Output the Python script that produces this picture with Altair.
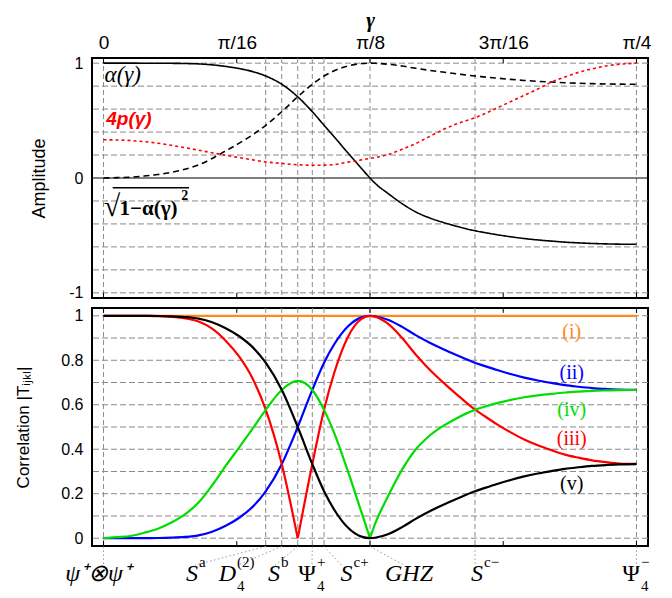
import json
import altair as alt
import pandas as pd

PI = 3.141592653589793

# ---------------- data ----------------
gamma = [0.0, 0.02, 0.04, 0.06, 0.08, 0.10, 0.12, 0.14, 0.16, 0.18, 0.20, 0.22,
         0.239, 0.2626, 0.2862, 0.3077, 0.325, 0.34, 0.36, 0.38, 0.3927,
         0.40, 0.42, 0.44, 0.46, 0.48, 0.50, 0.52, 0.5474, 0.56, 0.58, 0.60,
         0.62, 0.64, 0.66, 0.68, 0.70, 0.72, 0.74, 0.76, 0.7854]

alpha = [1.0, 1.0, 0.99998, 0.99985, 0.99955, 0.99875, 0.9971, 0.99348, 0.98539, 0.9716,
         0.95289, 0.92628, 0.8883, 0.8167, 0.7071, 0.5771, 0.4593, 0.3578, 0.2191,
         0.0837, 0.0, -0.0447, -0.1378, -0.2236, -0.295, -0.3464, -0.386, -0.4195,
         -0.4593, -0.4733, -0.494, -0.5119, -0.5273, -0.5394, -0.5495, -0.5586,
         -0.5648, -0.5701, -0.5736, -0.5762, -0.5774]

alpha_comp = [0.0, 0.0032, 0.0071, 0.0173, 0.03, 0.05, 0.0762, 0.114, 0.1703, 0.2366,
              0.3033, 0.3768, 0.4593, 0.5771, 0.7071, 0.8167, 0.8883, 0.9338, 0.9757,
              0.9965, 1.0, 0.999, 0.9905, 0.9747, 0.9555, 0.9381, 0.9225, 0.9077,
              0.8883, 0.8809, 0.8695, 0.8591, 0.8497, 0.842, 0.8355, 0.8295, 0.8252,
              0.8216, 0.8191, 0.8173, 0.8165]

four_p = [0.333, 0.331, 0.326, 0.317, 0.303, 0.285, 0.264, 0.242, 0.22, 0.198,
          0.178, 0.158, 0.14, 0.127, 0.115, 0.111, 0.112, 0.117, 0.138, 0.158,
          0.17, 0.178, 0.205, 0.25, 0.3, 0.36, 0.42, 0.47, 0.525, 0.555, 0.61,
          0.665, 0.72, 0.775, 0.835, 0.88, 0.92, 0.95, 0.975, 0.99, 1.0]

corr_i_gamma = [0.0, 0.7854]
corr_i = [1.0, 1.0]

corr_ii = [0.0, 0.00001, 0.00005, 0.0003, 0.0009, 0.0025, 0.0058, 0.013, 0.029, 0.056,
           0.092, 0.142, 0.211, 0.333, 0.5, 0.667, 0.789, 0.872, 0.952, 0.993, 1.0,
           0.998, 0.981, 0.95, 0.913, 0.88, 0.851, 0.824, 0.789, 0.776, 0.756, 0.738,
           0.722, 0.709, 0.698, 0.688, 0.681, 0.675, 0.671, 0.668, 0.667]

corr_iii = [1.0, 1.0, 0.9999, 0.9994, 0.9982, 0.995, 0.9884, 0.974, 0.942, 0.888, 0.816,
            0.716, 0.578, 0.334, 0.0, 0.334, 0.578, 0.744, 0.904, 0.986, 1.0, 0.996,
            0.962, 0.9, 0.826, 0.76, 0.702, 0.648, 0.578, 0.552, 0.512, 0.476, 0.444,
            0.418, 0.396, 0.376, 0.362, 0.35, 0.342, 0.336, 0.334]

corr_iv = [0.0, 0.0045, 0.01, 0.0245, 0.0424, 0.0706, 0.1074, 0.1602, 0.2373, 0.3252,
           0.4087, 0.4936, 0.577, 0.6665, 0.7071, 0.6665, 0.577, 0.4725, 0.3023, 0.118,
           0.0, 0.0632, 0.1931, 0.3082, 0.3986, 0.4596, 0.5036, 0.5386, 0.577, 0.5896,
           0.6074, 0.6219, 0.6336, 0.6424, 0.6493, 0.6552, 0.6592, 0.6624, 0.6645,
           0.666, 0.6665]

corr_v = [1.0, 1.0, 0.99995, 0.9997, 0.9991, 0.9975, 0.9942, 0.987, 0.971, 0.944, 0.908,
          0.858, 0.789, 0.667, 0.5, 0.333, 0.211, 0.128, 0.048, 0.007, 0.0, 0.002,
          0.019, 0.05, 0.087, 0.12, 0.149, 0.176, 0.211, 0.224, 0.244, 0.262, 0.278,
          0.291, 0.302, 0.312, 0.319, 0.325, 0.329, 0.332, 0.333]

# cusp positions (sharp minima) of (iii) and (iv)
cusp_iii = 0.2862
cusp_iv = 0.3927

special_gamma = [0.0, 0.239, 0.2626, 0.2862, 0.3077, 0.325, 0.3927, 0.5474, 0.7854]
leader_end_gamma = [0.0, 0.1348, 0.198, 0.2527, 0.3072, 0.3508, 0.4428, 0.5474, 0.7854]

state_main = ["ψ⁺⊗ψ⁺", "S", "D", "S", "Ψ", "S", "GHZ", "S", "Ψ"]
state_sup = ["", "a", "(2)", "b", "+", "c+", "", "c−", "−"]
state_sub = ["", "", "4", "", "4", "", "", "", "4"]
state_italic = [True, True, True, True, False, True, True, True, False]
state_anchor_gamma = [0.0405, 0.1393, 0.1953, 0.2601, 0.3131, 0.3669, 0.4856, 0.5592, 0.7906]

top_tick_values = [0.0, PI / 16, PI / 8, 3 * PI / 16, PI / 4]
top_tick_labels = ["0", "π/16", "π/8", "3π/16", "π/4"]

amp_grid = [-1.0, -0.8, -0.6, -0.4, -0.2, 0.2, 0.4, 0.6, 0.8, 1.0]
amp_axis_values = [-1, 0, 1]
corr_grid = [0.0, 0.1, 0.2, 0.3, 0.4, 0.5, 0.6, 0.7, 0.8, 0.9, 1.0]
corr_axis_values = [0, 0.2, 0.4, 0.6, 0.8, 1]

curve_names = ["(i)", "(ii)", "(iii)", "(iv)", "(v)"]
curve_colors = ["#ff8c1a", "#0000ff", "#ff0000", "#00dd00", "#000000"]
curve_label_gamma = [0.69, 0.69, 0.69, 0.69, 0.69]
curve_label_value = [0.928, 0.744, 0.444, 0.578, 0.242]

# ---------------- frames ----------------
X_DOM = [-0.017, 0.8024]
TOP_DOM = [-1.045, 1.045]
BOT_DOM = [-0.035, 1.035]
W = 556
TOP_H = 240
BOT_H = 238

GRID = "#8a8a8a"
SANS = "Liberation Sans"
SERIF = "Liberation Serif"

xs = alt.Scale(domain=X_DOM, nice=False, zero=False)
ys_top = alt.Scale(domain=TOP_DOM, nice=False, zero=False)
ys_bot = alt.Scale(domain=BOT_DOM, nice=False, zero=False)

label_expr = json.dumps(top_tick_labels) + "[round(datum.value / (PI / 16))]"
x_top_axis = alt.Axis(orient="top", values=top_tick_values, labelExpr=label_expr,
                      title="γ", titleFont=SERIF, titleFontSize=21, titleFontStyle="italic",
                      titleFontWeight="bold", titlePadding=3, labelFont=SANS,
                      labelFontSize=19, labelPadding=5.5, ticks=False, domain=False,
                      grid=False, labelColor="black", titleColor="black",
                      labelFlush=False, labelOverlap=False)

y_top_axis = alt.Axis(values=amp_axis_values,
                      labelExpr="datum.value < 0 ? '-' + abs(datum.value) : '' + datum.value",
                      title="Amplitude", titleFont=SANS, titleFontSize=18,
                      titleFontWeight="normal", titlePadding=8, labelFont=SANS,
                      labelFontSize=16, labelPadding=9, ticks=False, domain=False,
                      grid=False, labelColor="black", titleColor="black",
                      minExtent=36, maxExtent=36)

y_bot_axis = alt.Axis(values=corr_axis_values, labelExpr="'' + datum.value",
                      title="Correlation |Tᵢⱼₖₗ|", titleFont=SANS, titleFontSize=17,
                      titleFontWeight="normal", titlePadding=24, labelFont=SANS,
                      labelFontSize=16, labelPadding=9, ticks=False, domain=False,
                      grid=False, labelColor="black", titleColor="black",
                      minExtent=36, maxExtent=36)


def xt(field="g"):
    return alt.X(f"{field}:Q", scale=xs, axis=x_top_axis)


def yt(field="v"):
    return alt.Y(f"{field}:Q", scale=ys_top, axis=y_top_axis)


def xb(field="g"):
    return alt.X(f"{field}:Q", scale=xs, axis=None)


def yb(field="v"):
    return alt.Y(f"{field}:Q", scale=ys_bot, axis=y_bot_axis)


# ---------------- top panel ----------------
n = len(gamma)
top_lines = pd.DataFrame({
    "g": gamma * 3,
    "v": alpha + alpha_comp + four_p,
    "s": ["alpha"] * n + ["comp"] * n + ["fourp"] * n,
})

hgrid_top = alt.Chart(pd.DataFrame({"v": amp_grid})).mark_rule(
    color=GRID, strokeDash=[6, 3], strokeWidth=1).encode(y=yt())
zero_top = alt.Chart(pd.DataFrame({"v": [0.0]})).mark_rule(
    color="black", strokeWidth=1).encode(y=yt())
vgrid_top = alt.Chart(pd.DataFrame({"g": special_gamma})).mark_rule(
    color=GRID, strokeDash=[5, 3], strokeWidth=1).encode(x=xt())

tick_top_df = pd.DataFrame({
    "g": top_tick_values * 2,
    "v": [TOP_DOM[1]] * 5 + [TOP_DOM[0]] * 5,
    "v2": [TOP_DOM[1] - 0.045] * 5 + [TOP_DOM[0] + 0.045] * 5,
})
ticks_top = alt.Chart(tick_top_df).mark_rule(color="black", strokeWidth=1).encode(
    x=xt(), y=yt(), y2="v2:Q")

curves_top = alt.Chart(top_lines).mark_line(strokeWidth=1.6, interpolate="monotone").encode(
    x=xt(), y=yt(),
    color=alt.Color("s:N", scale=alt.Scale(domain=["alpha", "comp", "fourp"],
                                           range=["black", "black", "#ff0000"]), legend=None),
    strokeDash=alt.StrokeDash("s:N", scale=alt.Scale(domain=["alpha", "comp", "fourp"],
                                                     range=[[1, 0], [6, 4], [3, 3]]), legend=None),
    detail="s:N",
)

txt_alpha = alt.Chart(pd.DataFrame({"g": [0.0015], "v": [0.84], "t": ["α(γ)"]})).mark_text(
    align="left", baseline="alphabetic", font=SERIF, fontSize=23, fontStyle="italic",
    color="black").encode(x=xt(), y=yt(), text="t:N")
txt_p = alt.Chart(pd.DataFrame({"g": [0.004], "v": [0.465], "t": ["4p(γ)"]})).mark_text(
    align="left", baseline="alphabetic", font=SANS, fontSize=19, fontWeight="bold",
    fontStyle="italic", color="#ff0000").encode(x=xt(), y=yt(), text="t:N")
txt_root = alt.Chart(pd.DataFrame({"g": [0.0005], "v": [-0.33], "t": ["√"]})).mark_text(
    align="left", baseline="alphabetic", font=SERIF, fontSize=30,
    color="black").encode(x=xt(), y=yt(), text="t:N")
txt_radicand = alt.Chart(pd.DataFrame({"g": [0.0236], "v": [-0.32], "t": ["1−α(γ)"]})).mark_text(
    align="left", baseline="alphabetic", font=SERIF, fontSize=21, fontWeight="bold",
    color="black").encode(x=xt(), y=yt(), text="t:N")
txt_sq = alt.Chart(pd.DataFrame({"g": [0.1145], "v": [-0.19], "t": ["2"]})).mark_text(
    align="left", baseline="alphabetic", font=SERIF, fontSize=14, fontWeight="bold",
    color="black").encode(x=xt(), y=yt(), text="t:N")
bar_sqrt = alt.Chart(pd.DataFrame({"g": [0.0135], "g2": [0.126], "v": [-0.084]})).mark_rule(
    color="black", strokeWidth=1.5).encode(x=xt(), x2="g2:Q", y=yt())

top = alt.layer(hgrid_top, vgrid_top, zero_top, ticks_top, curves_top,
                txt_alpha, txt_p, txt_root, txt_radicand, txt_sq, bar_sqrt
                ).properties(width=W, height=TOP_H)

# ---------------- bottom panel ----------------
seg_iii = ["a" if g <= cusp_iii else "b" for g in gamma]
seg_iv = ["a" if g <= cusp_iv else "b" for g in gamma]
# duplicate the cusp points so both halves meet there
g_iii = gamma + [cusp_iii]
v_iii = corr_iii + [corr_iii[gamma.index(cusp_iii)]]
s_iii = seg_iii + ["b"]
g_iv = gamma + [cusp_iv]
v_iv = corr_iv + [corr_iv[gamma.index(cusp_iv)]]
s_iv = seg_iv + ["b"]

bot_lines = pd.DataFrame({
    "g": corr_i_gamma + gamma + g_iii + g_iv + gamma,
    "v": corr_i + corr_ii + v_iii + v_iv + corr_v,
    "s": ["(i)"] * 2 + ["(ii)"] * n + ["(iii)"] * len(g_iii) + ["(iv)"] * len(g_iv) + ["(v)"] * n,
    "seg": ["a"] * 2 + ["a"] * n + s_iii + s_iv + ["a"] * n,
})
bot_lines["key"] = bot_lines["s"] + bot_lines["seg"]

hgrid_bot = alt.Chart(pd.DataFrame({"v": corr_grid})).mark_rule(
    color=GRID, strokeDash=[6, 3], strokeWidth=1).encode(y=yb())
vgrid_bot = alt.Chart(pd.DataFrame({"g": special_gamma})).mark_rule(
    color=GRID, strokeDash=[5, 3], strokeWidth=1).encode(x=xb())

tick_bot_df = pd.DataFrame({
    "g": top_tick_values * 2,
    "v": [BOT_DOM[1]] * 5 + [BOT_DOM[0]] * 5,
    "v2": [BOT_DOM[1] - 0.022] * 5 + [BOT_DOM[0] + 0.022] * 5,
})
ticks_bot = alt.Chart(tick_bot_df).mark_rule(color="black", strokeWidth=1).encode(
    x=xb(), y=yb(), y2="v2:Q")

curves_bot = alt.Chart(bot_lines).mark_line(strokeWidth=2.2, interpolate="monotone").encode(
    x=xb(), y=yb(),
    color=alt.Color("s:N", scale=alt.Scale(domain=curve_names, range=curve_colors), legend=None),
    detail="key:N",
)

curve_lbl_df = pd.DataFrame({"g": curve_label_gamma, "v": curve_label_value, "t": curve_names})
curve_lbls = alt.Chart(curve_lbl_df).mark_text(
    align="center", baseline="middle", font=SERIF, fontSize=20).encode(
    x=xb(), y=yb(), text="t:N",
    color=alt.Color("t:N", scale=alt.Scale(domain=curve_names, range=curve_colors), legend=None))

leader_df = pd.DataFrame({
    "g": special_gamma, "g2": leader_end_gamma,
    "v": [-0.037] * len(special_gamma), "v2": [-0.121] * len(special_gamma),
})
leaders = alt.Chart(leader_df).mark_rule(color="#9a9a9a", strokeDash=[1.5, 2.5],
                                         strokeWidth=1).encode(
    x=xb(), x2="g2:Q", y=yb(), y2="v2:Q")

state_df = pd.DataFrame({
    "g": state_anchor_gamma, "main": state_main, "sup": state_sup, "sub": state_sub,
    "it": state_italic,
    "vm": [-0.194] * len(state_main), "vs": [-0.130] * len(state_main),
    "vb": [-0.238] * len(state_main),
})
state_main_it = alt.Chart(state_df).transform_filter("datum.it").mark_text(
    align="right", baseline="alphabetic", font=SERIF, fontSize=24, fontStyle="italic",
    color="black").encode(x=xb(), y=yb("vm"), text="main:N")
state_main_up = alt.Chart(state_df).transform_filter("!datum.it").mark_text(
    align="right", baseline="alphabetic", font=SERIF, fontSize=24,
    color="black").encode(x=xb(), y=yb("vm"), text="main:N")
state_sup_t = alt.Chart(state_df).mark_text(
    align="left", baseline="alphabetic", font=SERIF, fontSize=15, dx=1,
    color="black").encode(x=xb(), y=yb("vs"), text="sup:N")
state_sub_t = alt.Chart(state_df).mark_text(
    align="left", baseline="alphabetic", font=SERIF, fontSize=15, dx=1,
    color="black").encode(x=xb(), y=yb("vb"), text="sub:N")

bottom = alt.layer(hgrid_bot, vgrid_bot, ticks_bot, curves_bot, curve_lbls,
                   leaders, state_main_it, state_main_up, state_sup_t, state_sub_t
                   ).resolve_scale(color="independent").properties(width=W, height=BOT_H)

chart = alt.vconcat(top, bottom, spacing=4).properties(
    padding={"left": 5, "top": 0, "right": 0, "bottom": 0}
).configure_view(stroke="black", strokeWidth=2)

chart.save("out.html", embed_options={"renderer": "svg", "actions": False})
